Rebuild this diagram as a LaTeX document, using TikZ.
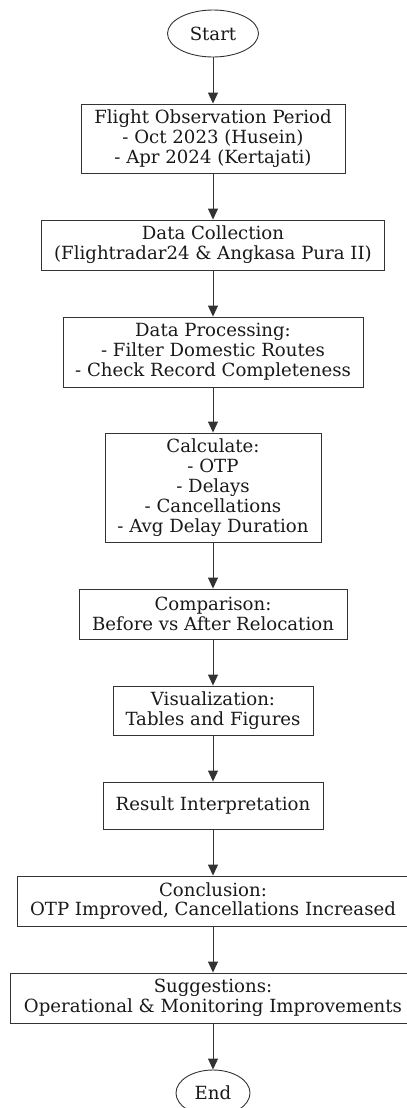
\documentclass[tikz,border=0pt]{standalone}
\usepackage{fontspec}
\setmainfont{DejaVu Serif}
\usetikzlibrary{arrows.meta,shapes.geometric}
\begin{document}
\begin{tikzpicture}[x=1bp,y=-1bp,
  box/.style={draw=black!80, line width=0.9bp, rectangle, inner sep=0pt, align=center, text=black!90, font=\fontsize{18.2}{20}\selectfont},
  term/.style={draw=black!80, line width=0.9bp, ellipse, inner sep=0pt, text=black!90, font=\fontsize{18.2}{20}\selectfont},
  arr/.style={draw=black!80, line width=0.9bp, -{Triangle[length=11bp,width=10bp]}}]
\useasboundingbox (0,0) rectangle (406,1108);
\node[term, minimum width=91bp, minimum height=47bp] (start) at (213,33.5) {Start};
\node[box, minimum width=264bp, minimum height=69bp] (n1) at (213,138.5) {Flight Observation Period\\- Oct 2023 (Husein)\\- Apr 2024 (Kertajati)};
\node[box, minimum width=343bp, minimum height=50bp] (n2) at (213,245) {Data Collection\\(Flightradar24 \& Angkasa Pura II)};
\node[box, minimum width=300bp, minimum height=70bp] (n3) at (213,352) {Data Processing:\\- Filter Domestic Routes\\- Check Record Completeness};
\node[box, minimum width=216bp, minimum height=109bp] (n4) at (213,487.5) {Calculate:\\- OTP\\- Delays\\- Cancellations\\- Avg Delay Duration};
\node[box, minimum width=268bp, minimum height=50bp] (n5) at (213,614) {Comparison:\\Before vs After Relocation};
\node[box, minimum width=200bp, minimum height=49bp] (n6) at (213,710.5) {Visualization:\\Tables and Figures};
\node[box, minimum width=220bp, minimum height=47bp] (n7) at (213,805.5) {Result Interpretation};
\node[box, minimum width=392bp, minimum height=50bp] (n8) at (213,901) {Conclusion:\\OTP Improved, Cancellations Increased};
\node[box, minimum width=406bp, minimum height=50bp] (n9) at (213,998) {Suggestions:\\Operational \& Monitoring Improvements};
\node[term, minimum width=74bp, minimum height=46bp] (end) at (213,1093) {End};
\foreach \a/\b in {start/n1,n1/n2,n2/n3,n3/n4,n4/n5,n5/n6,n6/n7,n7/n8,n8/n9,n9/end}
  \draw[arr] (\a) -- (\b);
\end{tikzpicture}
\end{document}
